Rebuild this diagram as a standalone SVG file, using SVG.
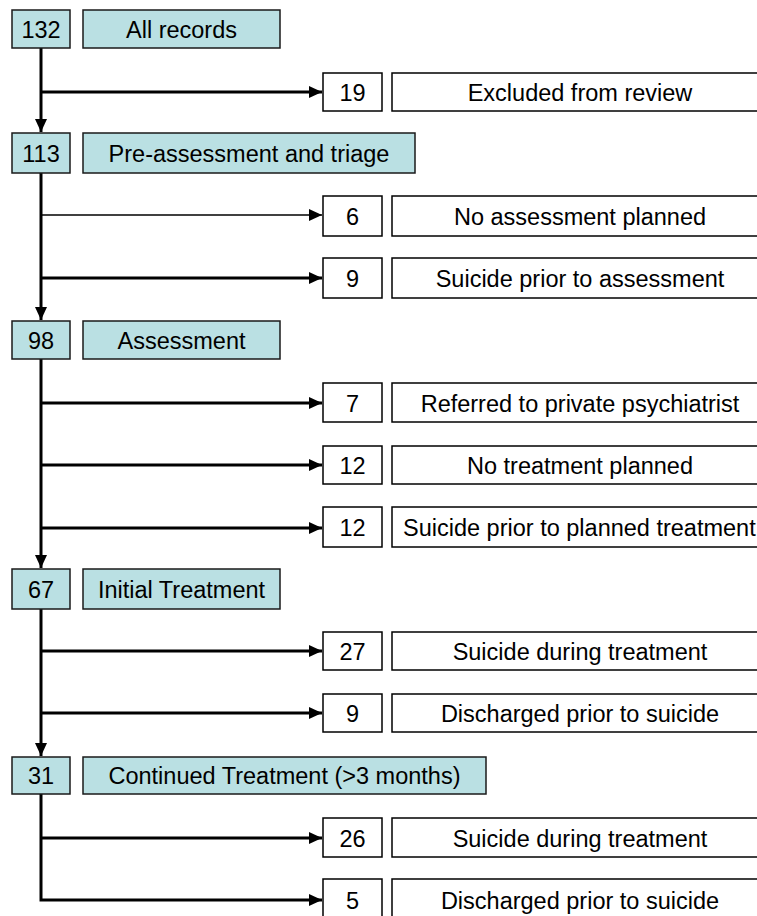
<svg xmlns="http://www.w3.org/2000/svg" width="757" height="916" viewBox="0 0 757 916">
<style>
.main{fill:#bae0e3;stroke:#1a1a1a;stroke-width:1.5}
.side{fill:#ffffff;stroke:#000;stroke-width:1.5}
text{font-family:"Liberation Sans",Arial,sans-serif;font-size:23.5px;fill:#000;text-anchor:middle}
.ln{fill:none;stroke:#000;stroke-width:3}
.thin{stroke-width:1.5}
</style>
<defs>
<marker id="ah" markerUnits="userSpaceOnUse" markerWidth="14" markerHeight="14" viewBox="0 0 14 14" refX="13" refY="7" orient="auto">
<path d="M0,1 L13,7 L0,13 Z" fill="#000"/>
</marker>
</defs>
<rect width="757" height="916" fill="#fff"/>
<g id="connectors">
<path class="ln" d="M41,48 V132" marker-end="url(#ah)"/>
<path class="ln" d="M41,173 V320" marker-end="url(#ah)"/>
<path class="ln" d="M41,359 V568" marker-end="url(#ah)"/>
<path class="ln" d="M41,609 V756" marker-end="url(#ah)"/>
<path class="ln" d="M41,794 V900 H322" marker-end="url(#ah)"/>
<path class="ln" d="M41,92 H322" marker-end="url(#ah)"/>
<path class="ln thin" d="M41,215 H322" marker-end="url(#ah)"/>
<path class="ln" d="M41,278 H322" marker-end="url(#ah)"/>
<path class="ln" d="M41,403 H322" marker-end="url(#ah)"/>
<path class="ln" d="M41,465 H322" marker-end="url(#ah)"/>
<path class="ln" d="M41,528 H322" marker-end="url(#ah)"/>
<path class="ln" d="M41,651 H322" marker-end="url(#ah)"/>
<path class="ln" d="M41,713 H322" marker-end="url(#ah)"/>
<path class="ln" d="M41,838 H322" marker-end="url(#ah)"/>
</g>
<g id="n132"><rect class="main" x="12" y="10" width="58" height="38"/><text x="41" y="37.5">132</text></g>
<g id="allrecords"><rect class="main" x="83" y="10" width="197" height="38"/><text x="181.5" y="37.5">All records</text></g>
<g id="n113"><rect class="main" x="12" y="133" width="58" height="40"/><text x="41" y="161.5">113</text></g>
<g id="preassess"><rect class="main" x="83" y="133" width="332" height="40"/><text x="249" y="161.5">Pre-assessment and triage</text></g>
<g id="n98"><rect class="main" x="12" y="321" width="58" height="38"/><text x="41" y="348.5">98</text></g>
<g id="assessment"><rect class="main" x="83" y="321" width="197" height="38"/><text x="181.5" y="348.5">Assessment</text></g>
<g id="n67"><rect class="main" x="12" y="569" width="58" height="40"/><text x="41" y="597.5">67</text></g>
<g id="initial"><rect class="main" x="83" y="569" width="197" height="40"/><text x="181.5" y="597.5">Initial Treatment</text></g>
<g id="n31"><rect class="main" x="12" y="757" width="58" height="37"/><text x="41" y="783.5">31</text></g>
<g id="continued"><rect class="main" x="83" y="757" width="403" height="37"/><text x="284.5" y="783.5">Continued Treatment (&gt;3 months)</text></g>

<g id="n19"><rect class="side" x="323" y="73" width="59" height="38"/><text x="352.5" y="100.5">19</text></g>
<g id="excluded"><rect class="side" x="392" y="73" width="380" height="38"/><text x="580" y="100.5">Excluded from review</text></g>
<g id="n6"><rect class="side" x="323" y="196" width="59" height="40"/><text x="352.5" y="224.5">6</text></g>
<g id="noassess"><rect class="side" x="392" y="196" width="380" height="40"/><text x="580" y="224.5">No assessment planned</text></g>
<g id="n9a"><rect class="side" x="323" y="258" width="59" height="40"/><text x="352.5" y="286.5">9</text></g>
<g id="suicideassess"><rect class="side" x="392" y="258" width="380" height="40"/><text x="580" y="286.5">Suicide prior to assessment</text></g>
<g id="n7"><rect class="side" x="323" y="383" width="59" height="39"/><text x="352.5" y="411.5">7</text></g>
<g id="referred"><rect class="side" x="392" y="383" width="380" height="39"/><text x="580" y="411.5">Referred to private psychiatrist</text></g>
<g id="n12a"><rect class="side" x="323" y="446" width="59" height="38"/><text x="352.5" y="473.5">12</text></g>
<g id="notreat"><rect class="side" x="392" y="446" width="380" height="38"/><text x="580" y="473.5">No treatment planned</text></g>
<g id="n12b"><rect class="side" x="323" y="507" width="59" height="40"/><text x="352.5" y="535.5">12</text></g>
<g id="suicideplanned"><rect class="side" x="392" y="507" width="380" height="40"/><text x="403" y="535.5" style="text-anchor:start">Suicide prior to planned treatment</text></g>
<g id="n27"><rect class="side" x="323" y="632" width="59" height="38"/><text x="352.5" y="659.5">27</text></g>
<g id="during1"><rect class="side" x="392" y="632" width="380" height="38"/><text x="580" y="659.5">Suicide during treatment</text></g>
<g id="n9b"><rect class="side" x="323" y="694" width="59" height="38"/><text x="352.5" y="721.5">9</text></g>
<g id="discharged1"><rect class="side" x="392" y="694" width="380" height="38"/><text x="580" y="721.5">Discharged prior to suicide</text></g>
<g id="n26"><rect class="side" x="323" y="818" width="59" height="39"/><text x="352.5" y="846.5">26</text></g>
<g id="during2"><rect class="side" x="392" y="818" width="380" height="39"/><text x="580" y="846.5">Suicide during treatment</text></g>
<g id="n5"><rect class="side" x="323" y="879" width="59" height="45"/><text x="352.5" y="908.5">5</text></g>
<g id="discharged2"><rect class="side" x="392" y="879" width="380" height="45"/><text x="580" y="908.5">Discharged prior to suicide</text></g>
</svg>
